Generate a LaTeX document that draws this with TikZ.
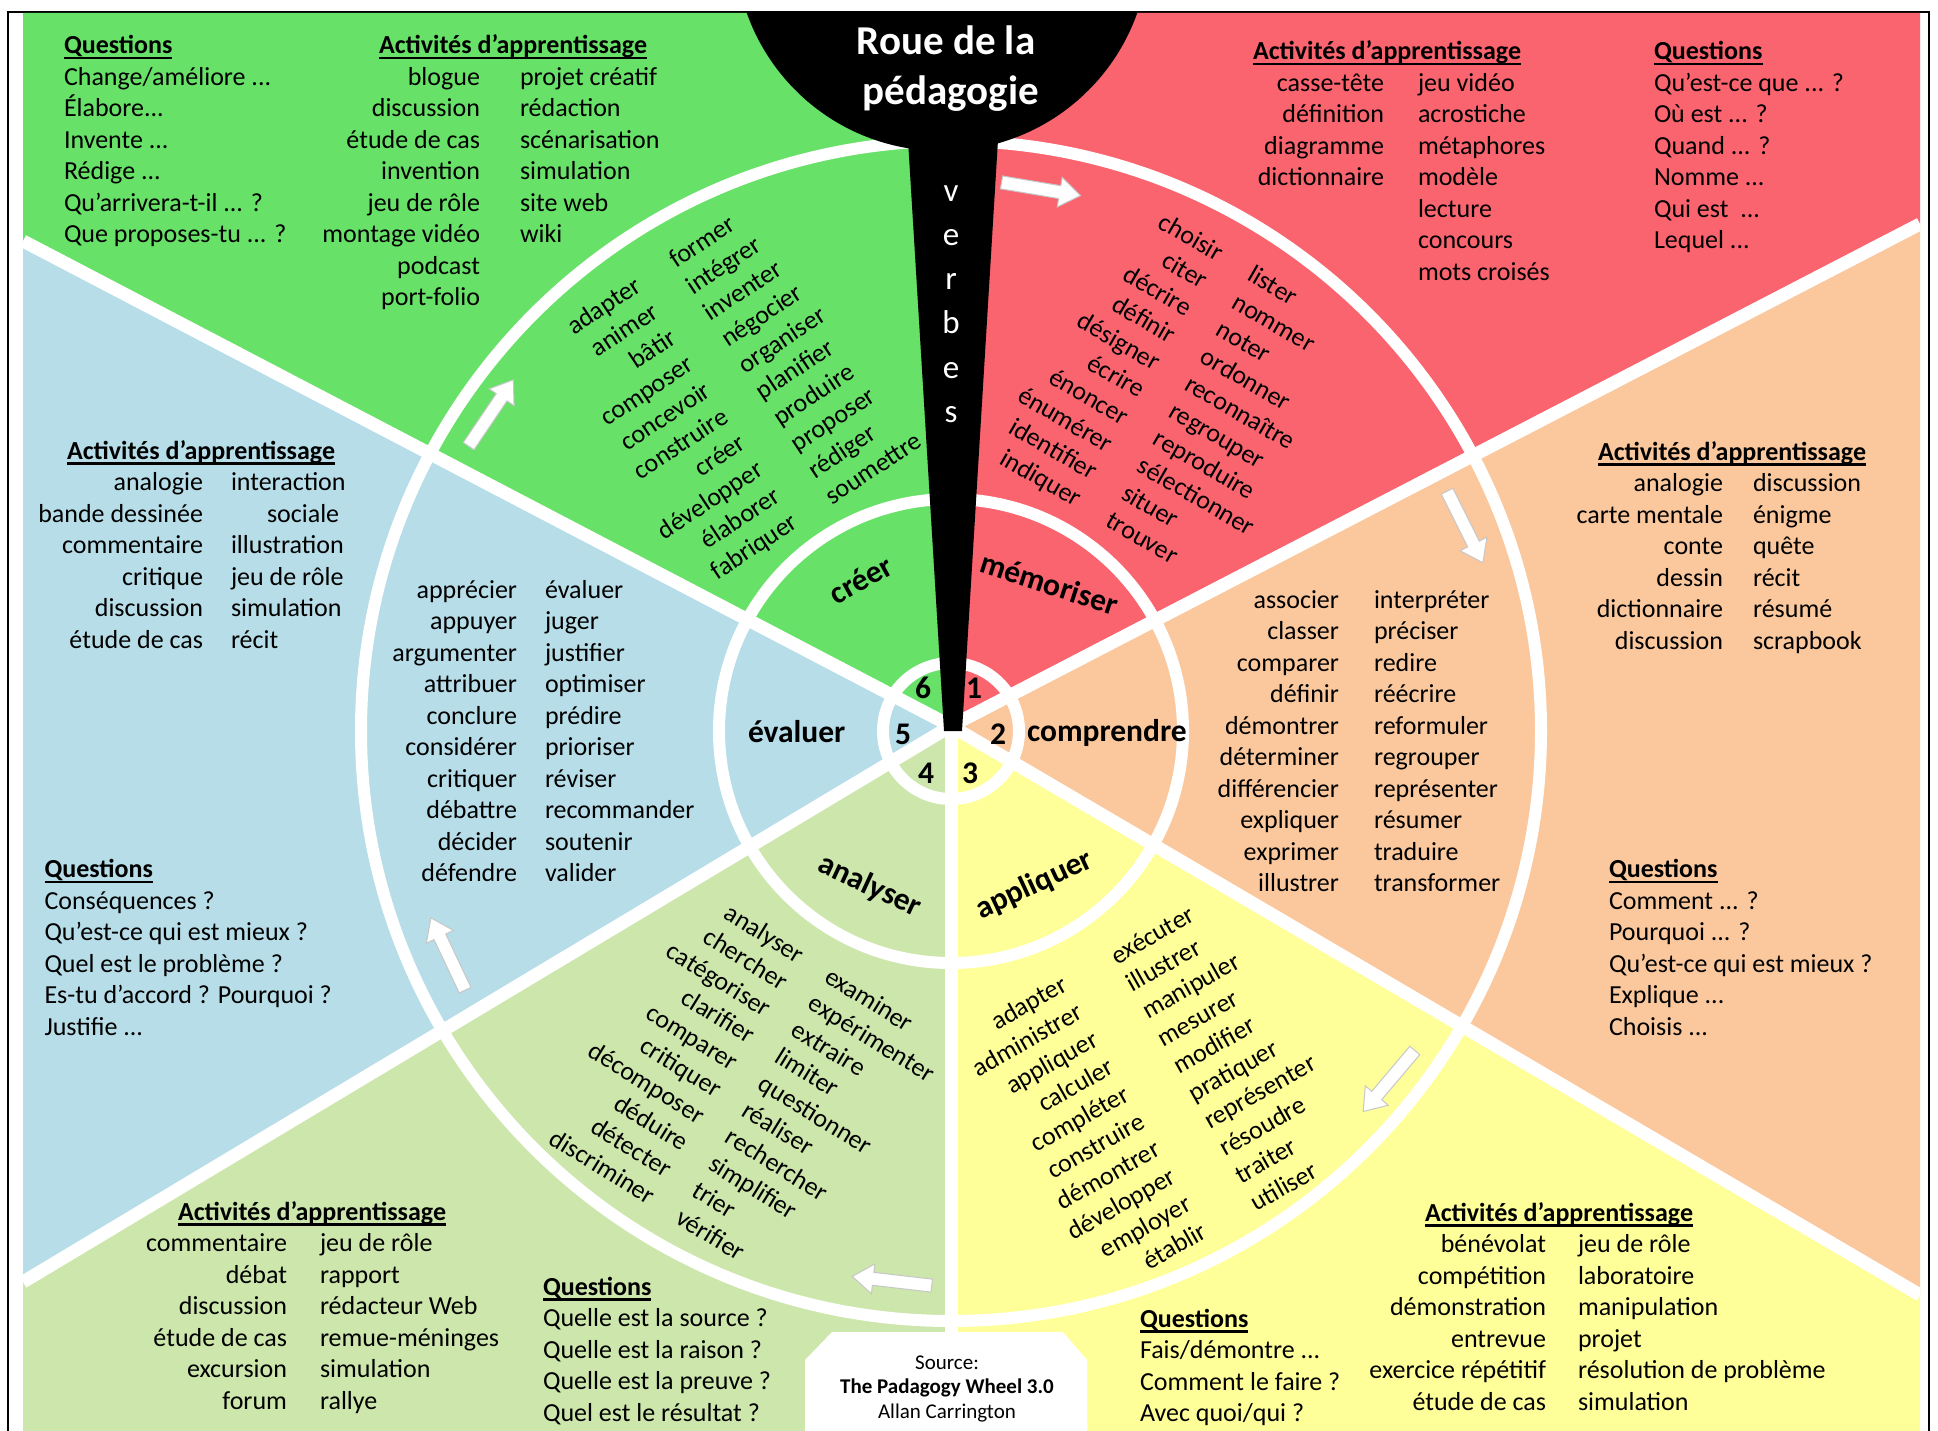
\documentclass[tikz,border=0pt]{standalone}
\usepackage{fontspec}
\setmainfont{Carlito}
\definecolor{cGreen}{RGB}{103,225,104}
\definecolor{cRed}{RGB}{249,100,111}
\definecolor{cOrange}{RGB}{251,200,157}
\definecolor{cYellow}{RGB}{255,255,153}
\definecolor{cLGreen}{RGB}{204,230,171}
\definecolor{cBlue}{RGB}{182,221,232}
\newsavebox\ulbox
\newcommand\ulhead[1]{\sbox\ulbox{\textbf{#1}}\rlap{\rule[-5.5pt]{\wd\ulbox}{2.2pt}}\usebox\ulbox}
\newcommand\colR[4]{\node[txt, anchor=base east, rotate=#4] (#1) at #2 {\begin{tabular}[t]{@{}r@{}}#3\end{tabular}};}
\newcommand\colL[4]{\node[txt, anchor=base west, rotate=#4] (#1) at #2 {\begin{tabular}[t]{@{}l@{}}#3\end{tabular}};}
\newcommand\warrow[3]{\begin{scope}[shift={(#1,#2)}, rotate=#3]
\filldraw[arrowsty] (-40,-6.5) -- (19,-6.5) -- (19,-15) -- (40,0) -- (19,15) -- (19,6.5) -- (-40,6.5) -- cycle;
\end{scope}}
\tikzset{
  txt/.style={inner sep=0pt, outer sep=0pt, font=\fontsize{26}{31.5}\selectfont, text=black},
  lbl/.style={inner sep=0pt, outer sep=0pt, font=\fontsize{31.5}{36}\selectfont\bfseries, text=black},
  vb/.style={inner sep=0pt, anchor=base, font=\fontsize{33}{40}\selectfont, text=white},
  ttl/.style={inner sep=0pt, anchor=base, font=\fontsize{41}{47}\selectfont\bfseries, text=white},
  src/.style={inner sep=0pt, anchor=base, font=\fontsize{21}{24.5}\selectfont, text=black},
  wline/.style={white, line width=13pt},
  wcirc/.style={white, line width=12pt},
  arrowsty/.style={fill=white, draw=black!22, line width=1pt, line join=miter},
}
\begin{document}
\begin{tikzpicture}[x=1pt,y=-1pt]
\useasboundingbox (0,0) rectangle (1938,1431);
\fill[white] (0,0) rectangle (1938,1431);
\draw[black, line width=1.5pt] (8,12) rectangle (1929,1460);
\begin{scope}
\clip (23,13) rectangle (1920,1431);
\coordinate (C) at (951,726);
\coordinate (T) at (951,13);
\coordinate (B) at (951,1431);
\coordinate (UL) at (23,241);
\coordinate (UR) at (1920,224);
\coordinate (LL) at (23,1282);
\coordinate (LR) at (1920,1295);
\fill[cGreen] (C) -- (T) -- (23,13) -- (UL) -- cycle;
\fill[cRed] (C) -- (T) -- (1920,13) -- (UR) -- cycle;
\fill[cOrange] (C) -- (UR) -- (LR) -- cycle;
\fill[cYellow] (C) -- (LR) -- (1920,1431) -- (B) -- cycle;
\fill[cLGreen] (C) -- (B) -- (23,1431) -- (LL) -- cycle;
\fill[cBlue] (C) -- (LL) -- (UL) -- cycle;
\foreach \p in {T,UR,LR,B,LL,UL} \draw[wline] (C) -- (\p);
\foreach \r in {68,232,590} \draw[wcirc] (951,731) circle[radius=\r pt];
\fill[black] (942,-56) circle[radius=207pt];
\fill[black] (908,140) -- (998,140) -- (962,731) -- (944,731) -- cycle;
\end{scope}
% arrows
\warrow{1041}{189}{-9.5}
\warrow{1465}{527}{-63.4}
\warrow{1389}{1081}{-130.2}
\warrow{892}{1281}{173.4}
\warrow{448}{954}{115.3}
\warrow{491}{413}{56}
% source box
\fill[white] (805,1440) -- (805,1360) -- (832,1332) -- (1063,1332) -- (1087,1360) -- (1087,1440) -- cycle;
\node[src] (s1) at (947,1369) {Source:};
\node[src, font=\fontsize{21}{24.5}\selectfont\bfseries] (s2) at (947,1393) {The Padagogy Wheel 3.0};
\node[src] (s3) at (947,1418) {Allan Carrington};
% title
\node[ttl] (t1) at (946,55) {Roue de la};
\node[ttl] (t2) at (951,105) {pédagogie};
\node[vb] (v1) at (951,202) {v};
\node[vb] (v2) at (951,246) {e};
\node[vb] (v3) at (951,290) {r};
\node[vb] (v4) at (951,334) {b};
\node[vb] (v5) at (951,378) {e};
\node[vb] (v6) at (951,422) {s};
% inner labels
\node[lbl, anchor=base, rotate=29] (lcr) at (866,589) {créer};
\node[lbl, anchor=base, rotate=-18] (lme) at (1046,594) {mémoriser};
\node[lbl, anchor=base west] (lco) at (1027,741) {comprendre};
\node[lbl, anchor=base west] (lev) at (748,742) {évaluer};
\node[lbl, anchor=base, rotate=-25] (lan) at (866,894) {analyser};
\node[lbl, anchor=base, rotate=25] (lap) at (1038,893) {appliquer};
\node[lbl] (n6) at (923,688) {6};
\node[lbl] (n1) at (974,688) {1};
\node[lbl] (n2) at (998,734) {2};
\node[lbl] (n3) at (970,773) {3};
\node[lbl] (n4) at (926,773) {4};
\node[lbl] (n5) at (903,734) {5};
% verbs
\colR{crA}{(643,290)}{adapter\\animer\\bâtir\\composer\\concevoir\\construire\\créer\\développer\\élaborer\\fabriquer}{33.5}
\colL{crB}{(676,269)}{former\\intégrer\\inventer\\négocier\\organiser\\planifier\\produire\\proposer\\rédiger\\soumettre}{33.5}
\colR{meA}{(1217,262)}{choisir\\citer\\décrire\\définir\\désigner\\écrire\\énoncer\\énumérer\\identifier\\indiquer}{-30}
\colL{meB}{(1246,280)}{lister\\nommer\\noter\\ordonner\\reconnaître\\regrouper\\reproduire\\sélectionner\\situer\\trouver}{-30}
\colR{coA}{(1339,608)}{associer\\classer\\comparer\\définir\\démontrer\\déterminer\\différencier\\expliquer\\exprimer\\illustrer}{0}
\colL{coB}{(1374,608)}{interpréter\\préciser\\redire\\réécrire\\reformuler\\regrouper\\représenter\\résumer\\traduire\\transformer}{0}
\colR{apA}{(1069,990)}{adapter\\administrer\\appliquer\\calculer\\compléter\\construire\\démontrer\\développer\\employer\\établir}{29.5}
\colL{apB}{(1117,965)}{exécuter\\illustrer\\manipuler\\mesurer\\modifier\\pratiquer\\représenter\\résoudre\\traiter\\utiliser}{29.5}
\colR{anA}{(797.5,964)}{analyser\\chercher\\catégoriser\\clarifier\\comparer\\critiquer\\décomposer\\déduire\\détecter\\discriminer}{-31.7}
\colL{anB}{(823,981)}{examiner\\expérimenter\\extraire\\limiter\\questionner\\réaliser\\rechercher\\simplifier\\trier\\vérifier}{-31.7}
\colR{evA}{(517,598)}{apprécier\\appuyer\\argumenter\\attribuer\\conclure\\considérer\\critiquer\\débattre\\décider\\défendre}{0}
\colL{evB}{(545,598)}{évaluer\\juger\\justifier\\optimiser\\prédire\\prioriser\\réviser\\recommander\\soutenir\\valider}{0}
% corner blocks: green
\colL{gQ}{(64,54)}{\ulhead{Questions}\\Change/améliore ...\\Élabore...\\Invente ...\\Rédige ...\\Qu’arrivera-t-il ... ?\\Que proposes-tu ... ?}{0}
\node[txt, anchor=base west] (gH) at (379,54) {\ulhead{Activités d’apprentissage}};
\colR{gA}{(480,85.5)}{blogue\\discussion\\étude de cas\\invention\\jeu de rôle\\montage vidéo\\podcast\\port-folio}{0}
\colL{gB}{(520,85.5)}{projet créatif\\rédaction\\scénarisation\\simulation\\site web\\wiki}{0}
% red
\node[txt, anchor=base west] (rH) at (1253,60) {\ulhead{Activités d’apprentissage}};
\colR{rA}{(1384,91.5)}{casse-tête\\définition\\diagramme\\dictionnaire}{0}
\colL{rB}{(1418,91.5)}{jeu vidéo\\acrostiche\\métaphores\\modèle\\lecture\\concours\\mots croisés}{0}
\colL{rQ}{(1654,60)}{\ulhead{Questions}\\Qu’est-ce que ... ?\\Où est ... ?\\Quand ... ?\\Nomme ...\\Qui est\ \ ...\\Lequel ...}{0}
% orange
\node[txt, anchor=base west] (oH) at (1598,460) {\ulhead{Activités d’apprentissage}};
\colR{oA}{(1723,491.5)}{analogie\\carte mentale\\conte\\dessin\\dictionnaire\\discussion}{0}
\colL{oB}{(1753,491.5)}{discussion\\énigme\\quête\\récit\\résumé\\scrapbook}{0}
\colL{oQ}{(1609,877.5)}{\ulhead{Questions}\\Comment ... ?\\Pourquoi ... ?\\Qu’est-ce qui est mieux ?\\Explique ...\\Choisis ...}{0}
% yellow
\node[txt, anchor=base west] (yH) at (1425,1221) {\ulhead{Activités d’apprentissage}};
\colR{yA}{(1546,1252.5)}{bénévolat\\compétition\\démonstration\\entrevue\\exercice répétitif\\étude de cas}{0}
\colL{yB}{(1578,1252.5)}{jeu de rôle\\laboratoire\\manipulation\\projet\\résolution de problème\\simulation}{0}
\colL{yQ}{(1140,1327)}{\ulhead{Questions}\\Fais/démontre ...\\Comment le faire ?\\Avec quoi/qui ?}{0}
% light green
\node[txt, anchor=base west] (lH) at (178,1220) {\ulhead{Activités d’apprentissage}};
\colR{lA}{(287,1251.5)}{commentaire\\débat\\discussion\\étude de cas\\excursion\\forum}{0}
\colL{lB}{(320,1251.5)}{jeu de rôle\\rapport\\rédacteur Web\\remue-méninges\\simulation\\rallye}{0}
\colL{lQ}{(543,1295)}{\ulhead{Questions}\\Quelle est la source ?\\Quelle est la raison ?\\Quelle est la preuve ?\\Quel est le résultat ?}{0}
% blue
\node[txt, anchor=base west] (bH) at (67,459) {\ulhead{Activités d’apprentissage}};
\colR{bA}{(203,490.5)}{analogie\\bande dessinée\\commentaire\\critique\\discussion\\étude de cas}{0}
\colL{bB}{(231,490.5)}{interaction\\\hspace*{36pt}sociale\\illustration\\jeu de rôle\\simulation\\récit}{0}
\colL{bQ}{(44.5,877.5)}{\ulhead{Questions}\\Conséquences ?\\Qu’est-ce qui est mieux ?\\Quel est le problème ?\\Es-tu d’accord ? Pourquoi ?\\Justifie ...}{0}
\end{tikzpicture}
\end{document}
